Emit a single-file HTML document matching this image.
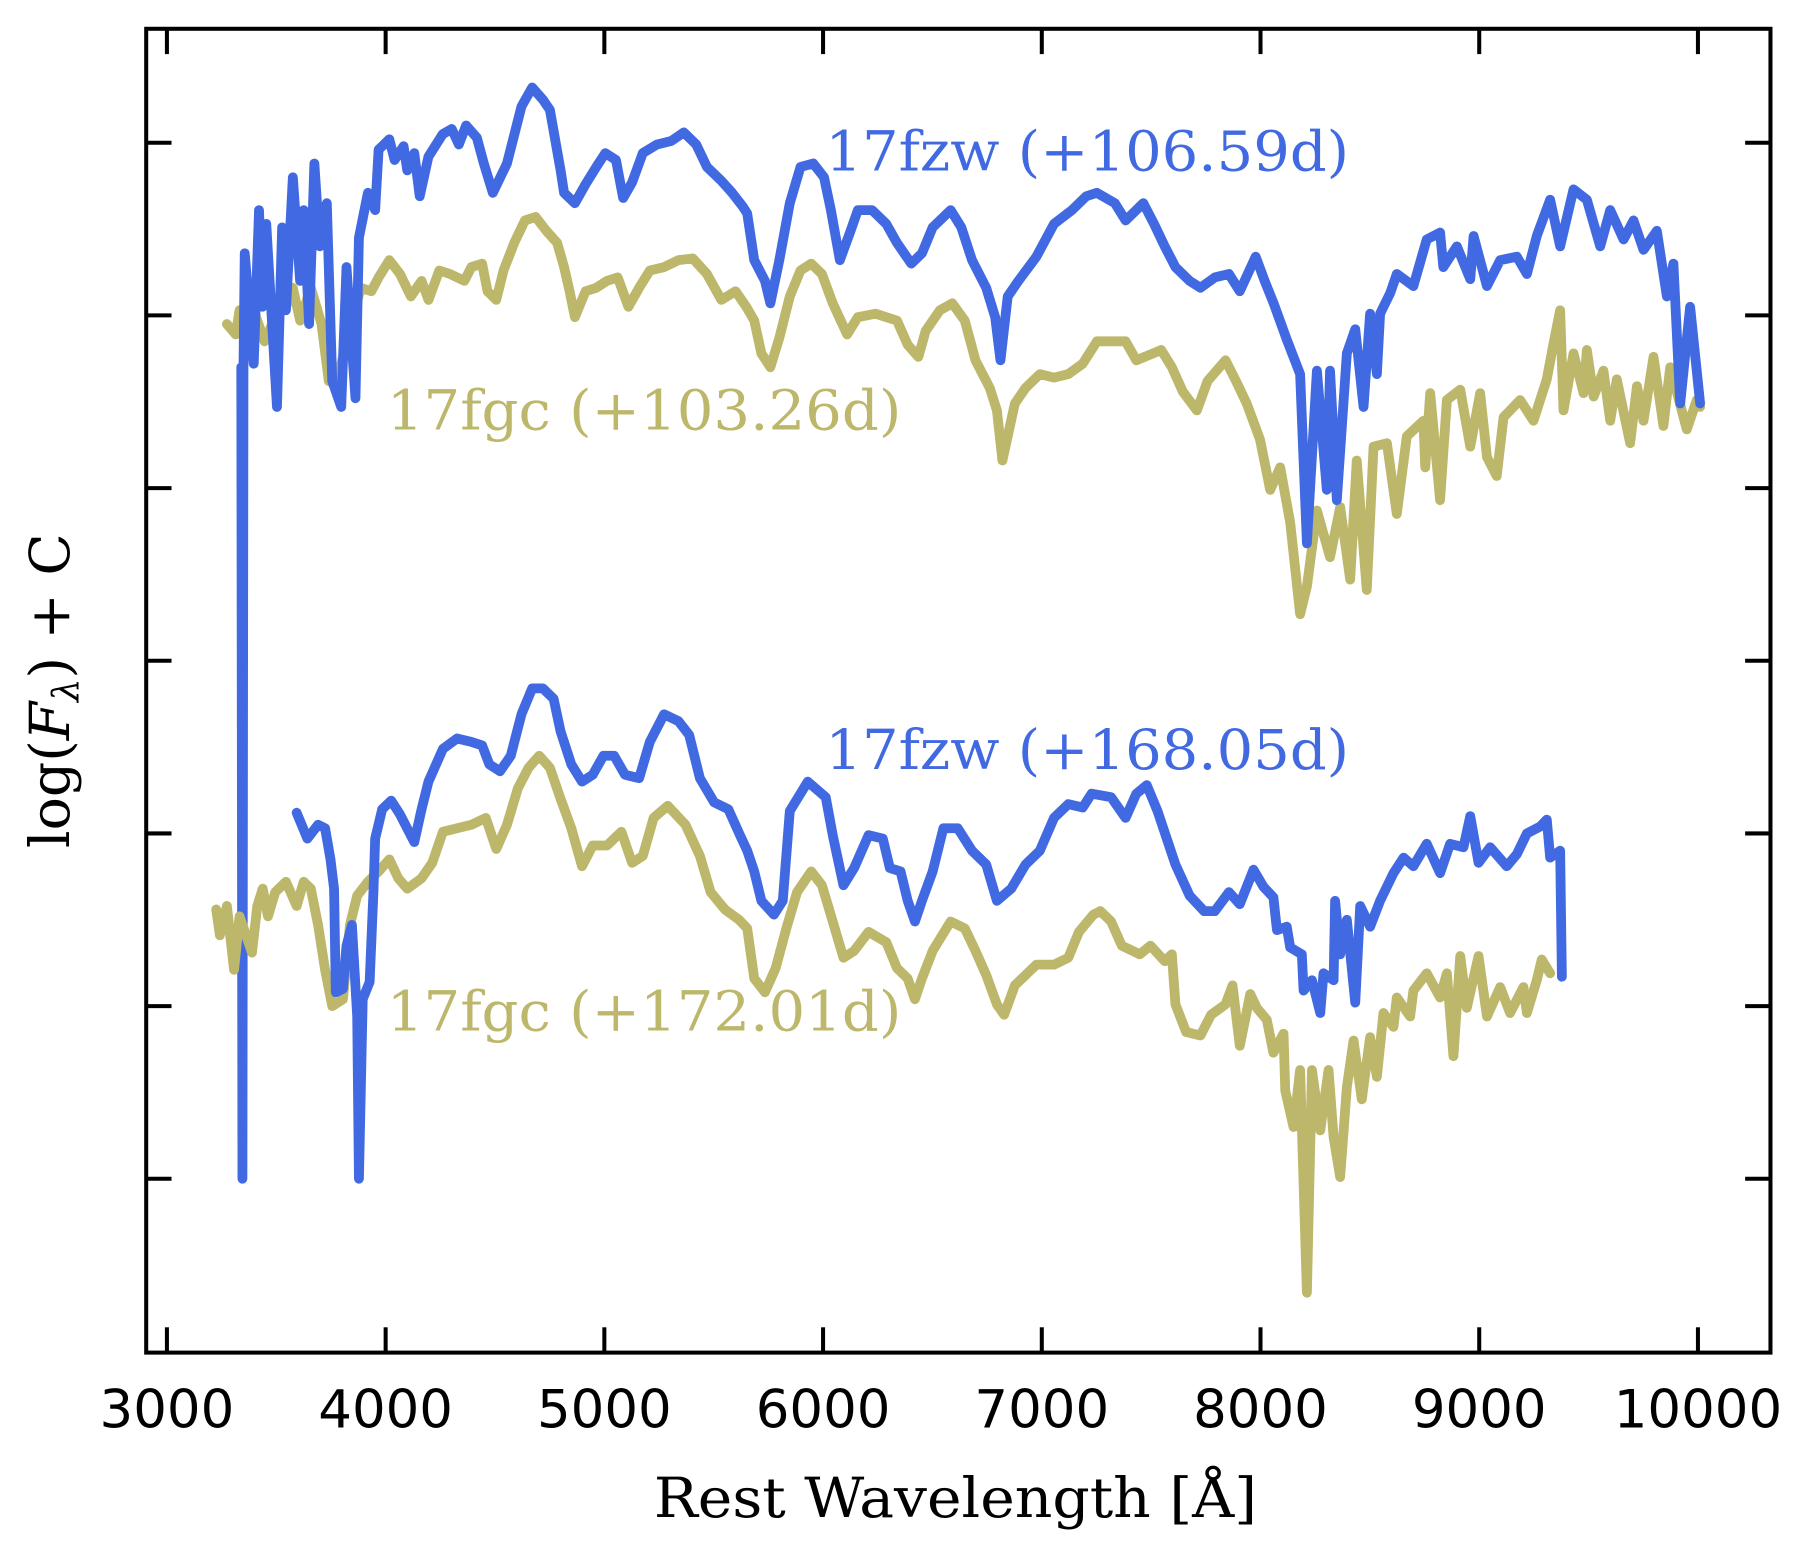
<!DOCTYPE html>
<html><head><meta charset="utf-8"><style>
html,body{margin:0;padding:0;background:#fff}
svg{display:block}
</style></head><body>
<svg id="chart" width="1805" height="1549" viewBox="0 0 1568 1345.6" xmlns="http://www.w3.org/2000/svg">
<rect x="0" y="0" width="1568" height="1346" fill="#fff"/>
<g id="series"></g>
<g id="axes"></g>
<text x="717" y="148" font-family="DejaVu Serif, Liberation Serif, serif" font-size="48" fill="#4169E1" textLength="455" lengthAdjust="spacingAndGlyphs">17fzw (+106.59d)</text>
<text x="336" y="373" font-family="DejaVu Serif, Liberation Serif, serif" font-size="48" fill="#BDB76B" textLength="447" lengthAdjust="spacingAndGlyphs">17fgc (+103.26d)</text>
<text x="717" y="668" font-family="DejaVu Serif, Liberation Serif, serif" font-size="48" fill="#4169E1" textLength="455" lengthAdjust="spacingAndGlyphs">17fzw (+168.05d)</text>
<text x="336" y="895" font-family="DejaVu Serif, Liberation Serif, serif" font-size="48" fill="#BDB76B" textLength="447" lengthAdjust="spacingAndGlyphs">17fgc (+172.01d)</text>
<text x="830" y="1318" text-anchor="middle" font-family="DejaVu Serif, Liberation Serif, serif" font-size="48" fill="#000" textLength="524" lengthAdjust="spacingAndGlyphs">Rest Wavelength [Å]</text>
<text transform="translate(60,600) rotate(-90)" text-anchor="middle" font-family="DejaVu Serif, Liberation Serif, serif" font-size="48" fill="#000">log(<tspan font-style="italic">F</tspan><tspan font-size="32" dy="8" font-style="italic">λ</tspan><tspan dy="-8">) + C</tspan></text>
</svg>
<script>
const xTicks = [3000,4000,5000,6000,7000,8000,9000,10000];
const yTicks = [0,1,2,3,4,5,6];

const fzw106Wave = [3340,3345,3350,3356,3397,3421,3437,3454,3503,3527,3544,3576,3609,3625,3650,3674,3699,3731,3756,3797,3821,3862,3878,3919,3952,3968,4017,4041,4082,4099,4131,4156,4196,4261,4302,4335,4368,4417,4449,4490,4555,4621,4670,4719,4751,4800,4816,4865,4914,4963,5004,5053,5086,5127,5176,5241,5306,5363,5420,5469,5535,5584,5633,5653,5685,5734,5759,5800,5848,5897,5955,6004,6036,6077,6126,6159,6224,6289,6338,6403,6452,6501,6583,6632,6681,6746,6787,6811,6844,6893,6975,7056,7138,7203,7252,7334,7383,7464,7513,7562,7611,7676,7725,7791,7856,7905,7978,8019,8060,8120,8181,8212,8258,8303,8318,8349,8395,8433,8471,8501,8532,8547,8593,8623,8699,8760,8821,8836,8898,8959,8974,9035,9096,9172,9218,9263,9324,9370,9431,9492,9553,9599,9660,9705,9751,9812,9858,9888,9919,9964,10010];
const fzw106Flux = [4.70,0.0,4.70,5.36,4.72,5.61,5.05,5.53,4.47,5.51,5.03,5.80,5.20,5.61,4.95,5.88,5.40,5.65,4.62,4.47,5.28,4.52,5.45,5.71,5.61,5.96,6.02,5.90,5.98,5.84,5.94,5.69,5.92,6.05,6.08,5.99,6.10,6.03,5.88,5.71,5.88,6.21,6.32,6.25,6.19,5.84,5.71,5.65,5.76,5.86,5.94,5.90,5.68,5.77,5.94,5.99,6.01,6.06,5.99,5.86,5.78,5.71,5.63,5.59,5.32,5.20,5.07,5.32,5.65,5.86,5.88,5.80,5.61,5.32,5.49,5.61,5.61,5.53,5.42,5.30,5.36,5.51,5.61,5.51,5.32,5.16,4.99,4.74,5.11,5.20,5.34,5.53,5.61,5.69,5.71,5.65,5.55,5.65,5.53,5.40,5.28,5.20,5.16,5.22,5.24,5.14,5.34,5.20,5.07,4.86,4.66,3.68,4.68,3.99,4.68,3.93,4.78,4.92,4.47,5.01,4.66,5.01,5.13,5.24,5.17,5.44,5.48,5.28,5.40,5.21,5.46,5.17,5.32,5.34,5.24,5.46,5.67,5.40,5.73,5.67,5.40,5.61,5.44,5.55,5.38,5.49,5.11,5.30,4.49,5.05,4.49];

const fgc103Wave = [3274,3315,3332,3397,3446,3495,3544,3576,3609,3658,3707,3740,3772,3837,3886,3935,3968,4017,4066,4115,4164,4196,4245,4294,4360,4392,4441,4466,4506,4539,4588,4637,4686,4735,4784,4816,4841,4865,4914,4963,5012,5061,5110,5159,5208,5273,5339,5404,5469,5535,5600,5649,5685,5718,5759,5800,5848,5897,5946,5995,6044,6110,6159,6240,6338,6387,6436,6469,6534,6591,6648,6697,6762,6795,6820,6877,6926,6991,7056,7121,7187,7252,7334,7383,7432,7546,7595,7644,7709,7758,7840,7888,7937,7998,8044,8090,8136,8181,8212,8258,8318,8364,8410,8440,8486,8517,8578,8623,8669,8745,8753,8776,8821,8852,8913,8959,9004,9035,9080,9111,9187,9248,9309,9340,9370,9385,9431,9477,9492,9523,9568,9599,9629,9690,9721,9751,9797,9842,9873,9949,9995,10010];
const fgc103Flux = [4.95,4.89,5.03,5.03,4.85,4.99,5.05,5.16,4.97,5.16,4.95,4.62,4.60,4.91,5.16,5.14,5.22,5.32,5.24,5.11,5.20,5.09,5.26,5.24,5.20,5.28,5.30,5.14,5.09,5.26,5.42,5.55,5.57,5.49,5.42,5.28,5.14,4.99,5.14,5.16,5.20,5.22,5.05,5.16,5.26,5.28,5.32,5.33,5.24,5.09,5.14,5.05,4.97,4.78,4.70,4.87,5.11,5.26,5.30,5.24,5.07,4.89,4.99,5.01,4.97,4.83,4.76,4.91,5.03,5.07,4.97,4.74,4.58,4.45,4.16,4.49,4.58,4.66,4.64,4.66,4.72,4.85,4.85,4.85,4.74,4.80,4.70,4.56,4.45,4.62,4.74,4.62,4.49,4.28,3.99,4.12,3.80,3.27,3.43,3.87,3.60,3.89,3.47,4.16,3.41,4.24,4.26,3.85,4.30,4.39,4.12,4.55,3.93,4.51,4.57,4.24,4.55,4.18,4.07,4.41,4.51,4.39,4.63,4.84,5.03,4.45,4.78,4.55,4.80,4.53,4.68,4.39,4.63,4.26,4.59,4.39,4.76,4.36,4.70,4.34,4.51,4.47];

const fzw168Wave = [3593,3642,3691,3723,3748,3764,3772,3805,3821,3846,3870,3878,3895,3927,3944,3952,3984,4025,4066,4131,4164,4196,4262,4327,4392,4441,4474,4523,4572,4621,4670,4719,4768,4800,4849,4898,4947,4996,5045,5094,5159,5208,5273,5339,5388,5437,5502,5567,5620,5653,5685,5718,5775,5816,5848,5930,6012,6044,6093,6142,6208,6273,6305,6354,6387,6420,6452,6501,6550,6616,6681,6746,6795,6860,6926,6991,7056,7121,7187,7228,7317,7383,7432,7480,7529,7611,7676,7742,7791,7856,7905,7968,8014,8059,8075,8120,8136,8189,8197,8235,8273,8288,8334,8341,8364,8395,8433,8456,8501,8547,8608,8654,8699,8760,8821,8867,8928,8959,8997,9050,9126,9172,9218,9279,9309,9324,9370,9378];
const fzw168Flux = [2.12,1.97,2.05,2.03,1.85,1.68,1.08,1.10,1.35,1.47,0.94,0.0,1.04,1.14,1.66,1.97,2.14,2.19,2.11,1.95,2.14,2.30,2.49,2.55,2.53,2.51,2.40,2.36,2.45,2.69,2.84,2.84,2.78,2.59,2.40,2.30,2.34,2.45,2.45,2.34,2.32,2.53,2.69,2.65,2.57,2.32,2.18,2.14,1.99,1.90,1.78,1.61,1.53,1.61,2.13,2.30,2.21,1.99,1.70,1.80,1.99,1.97,1.80,1.78,1.61,1.49,1.61,1.78,2.03,2.03,1.90,1.82,1.61,1.68,1.82,1.90,2.09,2.17,2.15,2.23,2.21,2.09,2.23,2.28,2.13,1.82,1.64,1.55,1.55,1.66,1.59,1.79,1.69,1.63,1.44,1.46,1.34,1.30,1.09,1.15,0.96,1.19,1.15,1.61,1.30,1.50,1.02,1.58,1.46,1.61,1.77,1.86,1.81,1.94,1.77,1.94,1.92,2.10,1.83,1.92,1.81,1.88,2.00,2.04,2.08,1.86,1.90,1.17];

const fgc172Wave = [3225,3242,3274,3307,3332,3389,3413,3438,3462,3495,3544,3593,3625,3658,3691,3723,3756,3805,3837,3870,3919,3968,4017,4058,4099,4164,4213,4262,4327,4392,4458,4506,4555,4604,4653,4702,4751,4800,4849,4898,4947,5012,5078,5127,5176,5225,5290,5371,5437,5486,5551,5616,5653,5685,5734,5783,5832,5881,5946,5995,6044,6093,6142,6208,6289,6338,6387,6420,6452,6501,6583,6648,6697,6746,6795,6828,6877,6975,7056,7121,7170,7236,7268,7317,7366,7448,7497,7562,7595,7611,7660,7725,7774,7840,7872,7905,7953,7983,8029,8059,8105,8113,8151,8181,8212,8235,8273,8311,8334,8364,8395,8425,8463,8501,8532,8562,8608,8623,8684,8699,8760,8821,8852,8882,8913,8943,8997,9035,9096,9141,9202,9218,9263,9286,9324];
const fgc172Flux = [1.56,1.41,1.58,1.21,1.52,1.31,1.58,1.68,1.52,1.66,1.72,1.58,1.72,1.68,1.47,1.21,1.00,1.04,1.47,1.64,1.72,1.78,1.85,1.74,1.68,1.74,1.83,2.01,2.03,2.05,2.09,1.91,2.05,2.26,2.38,2.45,2.38,2.20,2.03,1.81,1.93,1.93,2.01,1.83,1.87,2.09,2.16,2.05,1.87,1.66,1.56,1.50,1.45,1.16,1.08,1.22,1.45,1.66,1.78,1.70,1.49,1.28,1.32,1.43,1.37,1.22,1.16,1.04,1.16,1.32,1.49,1.45,1.32,1.18,1.01,0.95,1.12,1.24,1.24,1.28,1.43,1.53,1.55,1.49,1.35,1.30,1.35,1.26,1.30,1.01,0.85,0.83,0.95,1.01,1.12,0.77,1.07,0.99,0.92,0.73,0.84,0.51,0.30,0.63,-0.66,0.63,0.28,0.63,0.24,0.01,0.53,0.80,0.46,0.82,0.59,0.96,0.88,1.05,0.94,1.09,1.19,1.05,1.19,0.71,1.29,0.99,1.29,0.94,1.11,0.96,1.11,0.96,1.15,1.27,1.19];

const NS = 'http://www.w3.org/2000/svg';
const L = 127, R = 1538, T = 25, B = 1175;
function xScale(w){ return 145 + (w - 3000) * 0.19; }
function yScale(v){ return 1024 - v * 150; }

const seriesG = document.getElementById('series');
function drawSeries(waves, flux, color, name){
  let d = '';
  for (let i = 0; i < waves.length; i++){
    d += (i ? 'L' : 'M') + xScale(waves[i]).toFixed(1) + ' ' + yScale(flux[i]).toFixed(1);
  }
  const p = document.createElementNS(NS, 'path');
  p.setAttribute('d', d);
  p.setAttribute('fill', 'none');
  p.setAttribute('stroke', color);
  p.setAttribute('stroke-width', '8.5');
  p.setAttribute('stroke-linejoin', 'round');
  p.setAttribute('stroke-linecap', 'round');
  
  
  seriesG.appendChild(p);
}
drawSeries(fgc103Wave, fgc103Flux, '#BDB76B', 'spectrum-17fgc-103d');
drawSeries(fzw106Wave, fzw106Flux, '#4169E1', 'spectrum-17fzw-106d');
drawSeries(fgc172Wave, fgc172Flux, '#BDB76B', 'spectrum-17fgc-172d');
drawSeries(fzw168Wave, fzw168Flux, '#4169E1', 'spectrum-17fzw-168d');

const axesG = document.getElementById('axes');
function line(x1,y1,x2,y2,w,name){
  const l = document.createElementNS(NS, 'line');
  l.setAttribute('x1', x1); l.setAttribute('y1', y1);
  l.setAttribute('x2', x2); l.setAttribute('y2', y2);
  l.setAttribute('stroke', '#000');
  l.setAttribute('stroke-width', w);
  
  
  axesG.appendChild(l);
}
xTicks.forEach(function(t){
  const x = xScale(t);
  line(x, B, x, B - 22, 3.5, 'x-tick');
  line(x, T, x, T + 22, 3.5, 'x-tick-top');
  const tx = document.createElementNS(NS, 'text');
  tx.setAttribute('x', x);
  tx.setAttribute('y', 1240);
  tx.setAttribute('text-anchor', 'middle');
  tx.setAttribute('font-family', 'DejaVu Sans, Liberation Sans, sans-serif');
  tx.setAttribute('font-size', '46');
  tx.setAttribute('fill', '#000');
  tx.textContent = String(t);
  
  
  axesG.appendChild(tx);
});
yTicks.forEach(function(t){
  const y = yScale(t);
  line(L, y, L + 22, y, 3.5, 'y-tick');
  line(R, y, R - 22, y, 3.5, 'y-tick-right');
});
const frame = document.createElementNS(NS, 'rect');
frame.setAttribute('x', L); frame.setAttribute('y', T);
frame.setAttribute('width', R - L); frame.setAttribute('height', B - T);
frame.setAttribute('fill', 'none');
frame.setAttribute('stroke', '#000');
frame.setAttribute('stroke-width', '3.5');


axesG.appendChild(frame);
</script>
</body></html>
